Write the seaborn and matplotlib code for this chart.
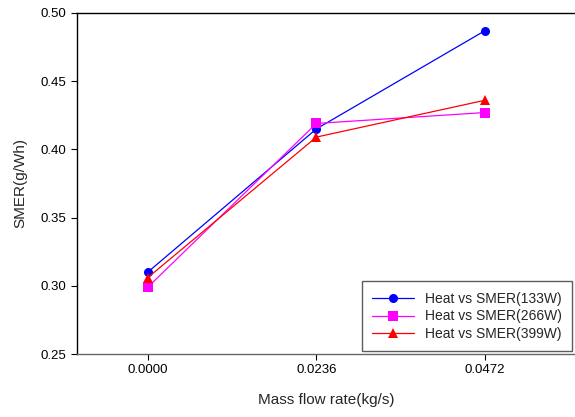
import matplotlib
matplotlib.use("Agg")
import matplotlib.pyplot as plt
import seaborn as sns
import pandas as pd

x_vals = [0.0, 0.0236, 0.0472]
x_labels = ["0.0000", "0.0236", "0.0472"]
s133 = [0.310, 0.415, 0.487]
s266 = [0.299, 0.419, 0.427]
s399 = [0.306, 0.409, 0.436]
series_names = ["Heat vs SMER(133W)", "Heat vs SMER(266W)", "Heat vs SMER(399W)"]
colors = ["#0000ff", "#ff00ff", "#ff0000"]
markers = ["o", "s", "^"]

sns.set_style("white")
plt.rcParams['font.family'] = ['Liberation Sans', 'DejaVu Sans']

df = pd.DataFrame({
    "x": x_vals * 3,
    "y": s133 + s266 + s399,
    "series": sum([[n] * 3 for n in series_names], []),
})

fig = plt.figure(figsize=(5.75, 4.17), dpi=100)
ax = fig.add_axes([0.134, 0.151, 0.866, 0.818])

for name, c, m in zip(series_names, colors, markers):
    sub = df[df.series == name]
    sns.lineplot(data=sub, x="x", y="y", ax=ax, color=c, marker=m,
                 markersize=6.5, markeredgewidth=0, linewidth=0.9, label=name)

ax.set_xlim(-0.0099, 0.0598)
ax.set_ylim(0.25, 0.50)
ax.set_xticks(x_vals)
ax.set_xticklabels(x_labels)
ax.set_yticks([0.25, 0.30, 0.35, 0.40, 0.45, 0.50])
ax.set_yticklabels(["0.25", "0.30", "0.35", "0.40", "0.45", "0.50"])
ax.tick_params(axis="both", direction="out", length=4, width=0.8, labelsize=9.5,
               bottom=True, left=True, colors="black")
ax.set_xlabel("Mass flow rate(kg/s)", fontsize=11, labelpad=12)
ax.set_ylabel("SMER(g/Wh)", fontsize=11, labelpad=10)

ax.spines["right"].set_visible(False)
for s in ["top", "left"]:
    ax.spines[s].set_color("black")
    ax.spines[s].set_linewidth(1.0)
ax.spines["bottom"].set_color("#666666")
ax.spines["bottom"].set_linewidth(1.0)

leg = ax.legend(loc="lower right", fontsize=10, frameon=True, fancybox=False,
                edgecolor="#333333", borderaxespad=0.2, handlelength=3.0,
                labelspacing=0.25, borderpad=0.75, handletextpad=0.8)
leg.get_frame().set_linewidth(1.0)

fig.savefig("out.png", dpi=100)
